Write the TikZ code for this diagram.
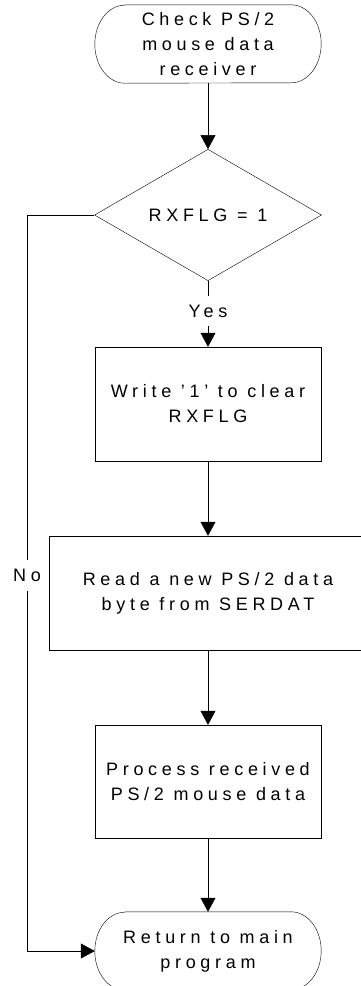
\documentclass[tikz,border=0pt]{standalone}
\usepackage{fontspec}
\setmainfont{Liberation Sans}[LetterSpace=26]
\usetikzlibrary{shapes.geometric,arrows.meta}

\tikzset{
	txt/.style={font=\fontsize{18}{25}\selectfont, align=center},
	terminal/.style={txt, rectangle, minimum width=226pt, minimum height=78pt, inner sep=0pt},
	process/.style={txt, draw, rectangle, minimum width=226pt, minimum height=114pt},
	decision/.style={txt, draw, diamond, minimum width=227pt, minimum height=111pt, inner sep=0pt},
	flow/.style={draw, -{Triangle[width=15pt,length=14pt]}},
	lbl/.style={txt, fill=white, inner xsep=2pt, inner ysep=9pt},
}

% outline of a start/end node with elliptic ends
\newcommand{\termoutline}[1]{
	\draw ([xshift=30pt]#1.north west) -- ([xshift=-30pt]#1.north east)
	arc[start angle=90, end angle=-90, x radius=30pt, y radius=39pt]
	-- ([xshift=30pt]#1.south west)
	arc[start angle=270, end angle=90, x radius=30pt, y radius=39pt] -- cycle;
}

\begin{document}
\begin{tikzpicture}[x=1pt, y=-1pt]
	
	\useasboundingbox (0,0) rectangle (361,986);
	
	% Define the nodes
	\node[terminal] (start) at (208,44) {Check PS/2\\mouse data\\receiver};
	\termoutline{start}
	\node[decision] (rxflg) at (208,215) {RXFLG = 1};
	\node[process] (clear) at (208,404) {Write '1' to clear\\RXFLG};
	\node[process, minimum width=318pt] (read) at (208,593) {Read a new PS/2 data\\byte from SERDAT};
	\node[process, minimum height=113pt] (work) at (208,781.5) {Process received\\PS/2 mouse data};
	\node[terminal] (back) at (208,951) {Return to main\\program};
	\termoutline{back}
	
	% Draw the flow
	\draw[flow] (start) -- (rxflg);
	\draw[flow] (rxflg) -- node[lbl, pos=0.46] (yes) {Yes} (clear);
	\draw[flow] (clear) -- (read);
	\draw[flow] (read) -- (work);
	\draw[flow] (work) -- (back);
	
	% No branch
	\coordinate (nobend) at (27,215);
	\draw[flow] (rxflg.west) -- (nobend) |- node[lbl, pos=0.245] (no) {No} (back.west);
	
\end{tikzpicture}
\end{document}
